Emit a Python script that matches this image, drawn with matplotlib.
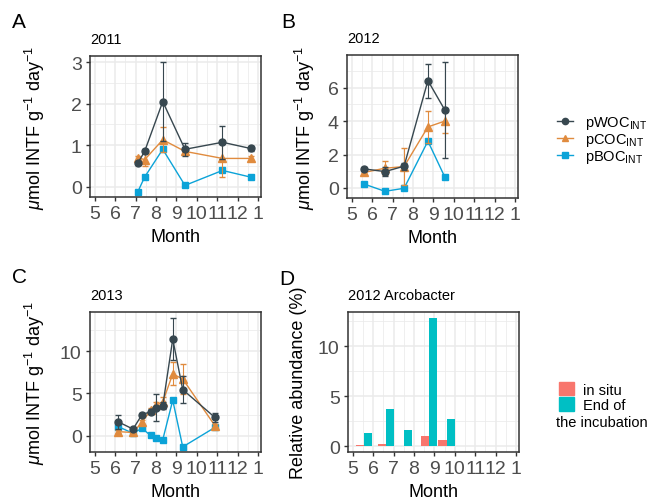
import numpy as np
import matplotlib
matplotlib.use("Agg")
import matplotlib.pyplot as plt
from matplotlib.ticker import MultipleLocator, FixedLocator
from matplotlib.lines import Line2D
from matplotlib.patches import Patch

plt.rcParams['font.family'] = ['Liberation Sans', 'DejaVu Sans']
plt.rcParams['mathtext.fontset'] = 'custom'
plt.rcParams['mathtext.rm'] = 'Liberation Sans'
plt.rcParams['mathtext.it'] = 'Liberation Sans:italic'

# month positions (decimal month, 13 = January)
x_2011 = [7.11, 7.44, 8.33, 9.42, 11.26, 12.64]
woc_2011 = [0.57, 0.85, 2.05, 0.90, 1.07, 0.92]
woc_2011_err = [0.05, 0.05, 0.95, 0.15, 0.40, 0.07]
coc_2011 = [0.70, 0.65, 1.13, 0.85, 0.68, 0.68]
coc_2011_err = [0.05, 0.15, 0.30, 0.05, 0.44, 0.05]
boc_2011 = [-0.12, 0.23, 0.90, 0.03, 0.39, 0.23]

x_2012 = [5.61, 6.62, 7.56, 8.73, 9.56]
woc_2012 = [1.14, 0.98, 1.30, 6.42, 4.66]
woc_2012_err = [0.10, 0.25, 0.20, 1.02, 2.88]
coc_2012 = [0.93, 1.18, 1.28, 3.65, 4.00]
coc_2012_err = [0.15, 0.42, 1.12, 0.95, 0.70]
boc_2012 = [0.23, -0.20, -0.02, 2.80, 0.65]

x_2013 = [6.14, 6.87, 7.31, 7.73, 7.98, 8.33, 8.82, 9.31, 10.89]
woc_2013 = [1.66, 0.80, 2.50, 2.85, 3.30, 3.55, 11.40, 5.45, 2.17]
woc_2013_err = [0.85, 0.15, 0.20, 0.30, 1.60, 0.40, 2.50, 1.55, 0.50]
coc_2013 = [0.50, 0.40, 1.60, 3.00, 3.60, 4.00, 7.30, 6.70, 1.20]
coc_2013_err = [0.20, 0.10, 0.30, 0.30, 0.40, 0.60, 1.35, 1.80, 0.20]
boc_2013 = [1.10, 0.30, 0.90, 0.05, -0.30, -0.45, 4.20, -1.30, 1.00]

x_arco = [5.55, 6.62, 7.50, 8.72, 9.60]
arco_insitu = [0.17, 0.20, 0.07, 1.00, 0.66]
arco_end = [1.36, 3.75, 1.66, 12.82, 2.76]

month_ticks = [5, 6, 7, 8, 9, 10, 11, 12, 13]
month_labels = ['5', '6', '7', '8', '9', '10', '11', '12', '1']

c_woc = '#37474F'
c_coc = '#E08B3E'
c_boc = '#0BA3D8'
c_insitu = '#F8766D'
c_end = '#00BFC4'

W, H = 650, 502
fig = plt.figure(figsize=(6.5, 5.02), dpi=100)


def add_ax(l, r, t, b):
    return fig.add_axes([l / W, 1 - b / H, (r - l) / W, (b - t) / H])


def style(ax, ymaj, ylim, ylab, ylab_x, title):
    ax.set_xlim(4.76, 13.15)
    ax.set_ylim(*ylim)
    ax.set_xticks(month_ticks)
    ax.set_xticklabels(month_labels)
    ax.xaxis.set_minor_locator(FixedLocator(np.arange(4.5, 13.6, 1.0)))
    ax.yaxis.set_major_locator(MultipleLocator(ymaj))
    ax.yaxis.set_minor_locator(MultipleLocator(ymaj / 2))
    ax.grid(which='major', color='#EBEBEB', lw=1.1)
    ax.grid(which='minor', color='#EBEBEB', lw=0.55)
    ax.set_axisbelow(True)
    for s in ax.spines.values():
        s.set_color('#333333')
        s.set_linewidth(1.1)
    ax.tick_params(which='major', labelsize=14, colors='#333333', labelcolor='#4D4D4D',
                   length=3, width=1, pad=3)
    ax.tick_params(which='minor', length=0)
    ax.set_xlabel('Month', fontsize=13, labelpad=4)
    ax.set_ylabel(ylab, fontsize=13)
    ax.yaxis.set_label_coords(ylab_x, 0.5)
    ax.set_title(title, fontsize=10.5, loc='left', pad=9)


def lines(ax, x, woc, woc_err, coc, coc_err, boc):
    ax.errorbar(x, woc, yerr=woc_err, color=c_woc, marker='o', ms=5, lw=1,
                elinewidth=0.8, capsize=2, zorder=4)
    ax.errorbar(x, coc, yerr=coc_err, color=c_coc, marker='^', ms=6, lw=1,
                elinewidth=0.8, capsize=2, zorder=3)
    ax.plot(x, boc, color=c_boc, marker='s', ms=5, lw=1, zorder=2)


ylab = r'$\mu$mol INTF g$^{-1}$ day$^{-1}$'

axA = add_ax(90, 261, 57, 198)
lines(axA, x_2011, woc_2011, woc_2011_err, coc_2011, coc_2011_err, boc_2011)
style(axA, 1, (-0.25, 3.15), ylab, -0.251, '2011')

axB = add_ax(347, 518, 56, 199)
lines(axB, x_2012, woc_2012, woc_2012_err, coc_2012, coc_2012_err, boc_2012)
style(axB, 2, (-0.6, 7.95), ylab, -0.175, '2012')

axC = add_ax(90, 261, 313, 453)
lines(axC, x_2013, woc_2013, woc_2013_err, coc_2013, coc_2013_err, boc_2013)
style(axC, 5, (-1.9, 14.6), ylab, -0.251, '2013')

axD = add_ax(348, 519, 313, 453)
bw = 0.4
axD.bar(np.array(x_arco) - bw / 2, arco_insitu, width=bw, color=c_insitu, zorder=2)
axD.bar(np.array(x_arco) + bw / 2, arco_end, width=bw, color=c_end, zorder=2)
style(axD, 5, (-0.56, 13.4), 'Relative abundance (%)', -0.24, '2012 Arcobacter')

for lab, px, py in [('A', 12, 22), ('B', 281, 22), ('C', 12, 278), ('D', 279, 280)]:
    fig.text(px / W, 1 - py / H, lab, fontsize=15, va='center', ha='left')

h1 = [Line2D([], [], color=c_woc, marker='o', ms=4.5, lw=1),
      Line2D([], [], color=c_coc, marker='^', ms=5, lw=1),
      Line2D([], [], color=c_boc, marker='s', ms=4.5, lw=1)]
fig.legend(h1, [r'pWOC$_{\mathrm{INT}}$', r'pCOC$_{\mathrm{INT}}$', r'pBOC$_{\mathrm{INT}}$'],
           loc='center left', bbox_to_anchor=(557 / W, 1 - 141 / H), frameon=False,
           fontsize=10.5, handlelength=1.1, handletextpad=0.8, labelspacing=0.0,
           borderpad=0, borderaxespad=0)

h2 = [Patch(color=c_insitu), Patch(color=c_end)]
fig.legend(h2, ['in situ', 'End of'], loc='center left',
           bbox_to_anchor=(559 / W, 1 - 398 / H), frameon=False, fontsize=10.5,
           handlelength=1.05, handleheight=1.05, handletextpad=0.6, labelspacing=0.05,
           borderpad=0, borderaxespad=0)
fig.text(556 / W, 1 - 423 / H, 'the incubation', fontsize=10.5, va='center', ha='left')

fig.savefig('out.png', dpi=100)
